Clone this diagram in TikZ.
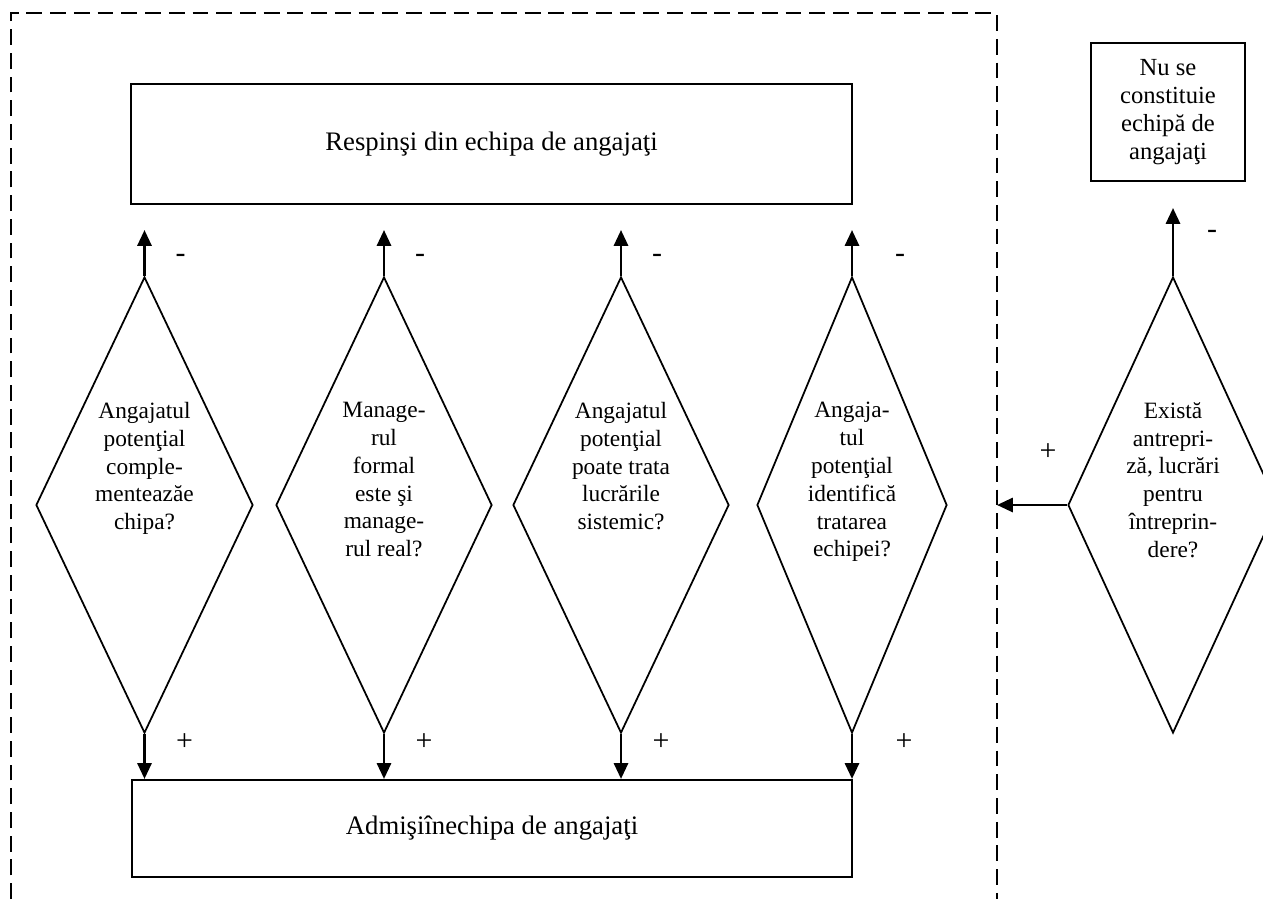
\documentclass[tikz,border=0pt]{standalone}
\usepackage{fontspec}
\setmainfont{Liberation Serif}
\usetikzlibrary{calc,arrows.meta,shapes.geometric}

\tikzset{
	txt/.style={font=\fontsize{13.3}{15.8}\selectfont},
	box/.style={draw, line width=1.2pt, align=center, inner sep=0pt},
	quest/.style={draw, diamond, line width=1pt, inner sep=0pt, minimum height=9.12cm},
	qtext/.style={txt, align=center, inner sep=0pt, anchor=north},
	sign/.style={font=\fontsize{17}{20}\selectfont, inner sep=0pt},
	arr/.style={line width=1.5pt, -{Triangle[length=9pt,width=8pt]}}
}

\begin{document}
\begin{tikzpicture}
		%%%%% START %%%%%
		\useasboundingbox (0,0) rectangle (25.26,-17.98);
		\clip (0,0) rectangle (25.26,-17.98);
		
		% dashed frame
		\draw[line width=1.6pt, dash pattern=on 9pt off 4.5pt] (0.22,-17.98) -- (0.22,-0.26) -- (19.94,-0.26) -- (19.94,-17.98);
		
		% boxes
		\node[box, font=\fontsize{15.2}{18}\selectfont, minimum width=14.42cm, minimum height=2.4cm] (reject) at (9.83,-2.88) {Respinşi din echipa de angajaţi};
		\node[box, font=\fontsize{15.2}{18}\selectfont, minimum width=14.4cm, minimum height=1.94cm] (admit) at (9.84,-16.57) {Admişiînechipa de angajaţi};
		\node[box, font=\fontsize{14}{15.9}\selectfont, minimum width=3.08cm, minimum height=2.76cm] (noteam) at (23.36,-2.24) {Nu se\\constituie\\echipă de\\angajaţi};
		
		% questions
		\node[quest, minimum width=4.34cm] (q1) at (2.89,-10.1) {};
		\node[quest, minimum width=4.32cm] (q2) at (7.68,-10.1) {};
		\node[quest, minimum width=4.32cm] (q3) at (12.42,-10.1) {};
		\node[quest, minimum width=3.8cm] (q4) at (17.04,-10.1) {};
		\node[quest, minimum width=4.2cm] (q5) at (23.46,-10.1) {};
		
		\node[qtext] (t1) at ([yshift=-2.52cm]q1.north) {Angajatul\\potenţial\\comple-\\menteazăe\\chipa?};
		\node[qtext] (t2) at ([yshift=-2.52cm]q2.north) {Manage-\\rul\\formal\\este şi\\manage-\\rul real?};
		\node[qtext] (t3) at ([yshift=-2.52cm]q3.north) {Angajatul\\potenţial\\poate trata\\lucrările\\sistemic?};
		\node[qtext] (t4) at ([yshift=-2.52cm]q4.north) {Angaja-\\tul\\potenţial\\identifică\\tratarea\\echipei?};
		\node[qtext] (t5) at ([yshift=-2.52cm]q5.north) {Există\\antrepri-\\ză, lucrări\\pentru\\întreprin-\\dere?};
		
		% free ends
		\coordinate (u1) at (2.89,-4.6);
		\coordinate (u2) at (7.68,-4.6);
		\coordinate (u3) at (12.42,-4.6);
		\coordinate (u4) at (17.04,-4.6);
		\coordinate (u5) at (23.46,-4.16);
		\coordinate (gate) at (19.94,-10.1);
		
		% arrows
		\draw[arr] (q1.north) -- (u1);
		\draw[arr] (q2.north) -- (u2);
		\draw[arr] (q3.north) -- (u3);
		\draw[arr] (q4.north) -- (u4);
		\draw[arr] (q5.north) -- (u5);
		\draw[arr] (q1.south) -- (q1.south |- admit.north);
		\draw[arr] (q2.south) -- (q2.south |- admit.north);
		\draw[arr] (q3.south) -- (q3.south |- admit.north);
		\draw[arr] (q4.south) -- (q4.south |- admit.north);
		\draw[arr] (q5.west) -- (gate);
		
		% signs
		\node[sign] (m1) at ($(q1.north)+(0.72,0.36)$) {-};
		\node[sign] (m2) at ($(q2.north)+(0.72,0.36)$) {-};
		\node[sign] (m3) at ($(q3.north)+(0.72,0.36)$) {-};
		\node[sign] (m4) at ($(q4.north)+(0.96,0.36)$) {-};
		\node[sign] (m5) at ($(q5.north)+(0.78,0.84)$) {-};
		\node[sign] (p1) at ($(q1.south)+(0.8,-0.16)$) {+};
		\node[sign] (p2) at ($(q2.south)+(0.8,-0.16)$) {+};
		\node[sign] (p3) at ($(q3.south)+(0.8,-0.16)$) {+};
		\node[sign] (p4) at ($(q4.south)+(1.04,-0.16)$) {+};
		\node[sign] (p5) at (20.96,-9.04) {+};
		
		%%%%% END %%%%%
\end{tikzpicture}
\end{document}
